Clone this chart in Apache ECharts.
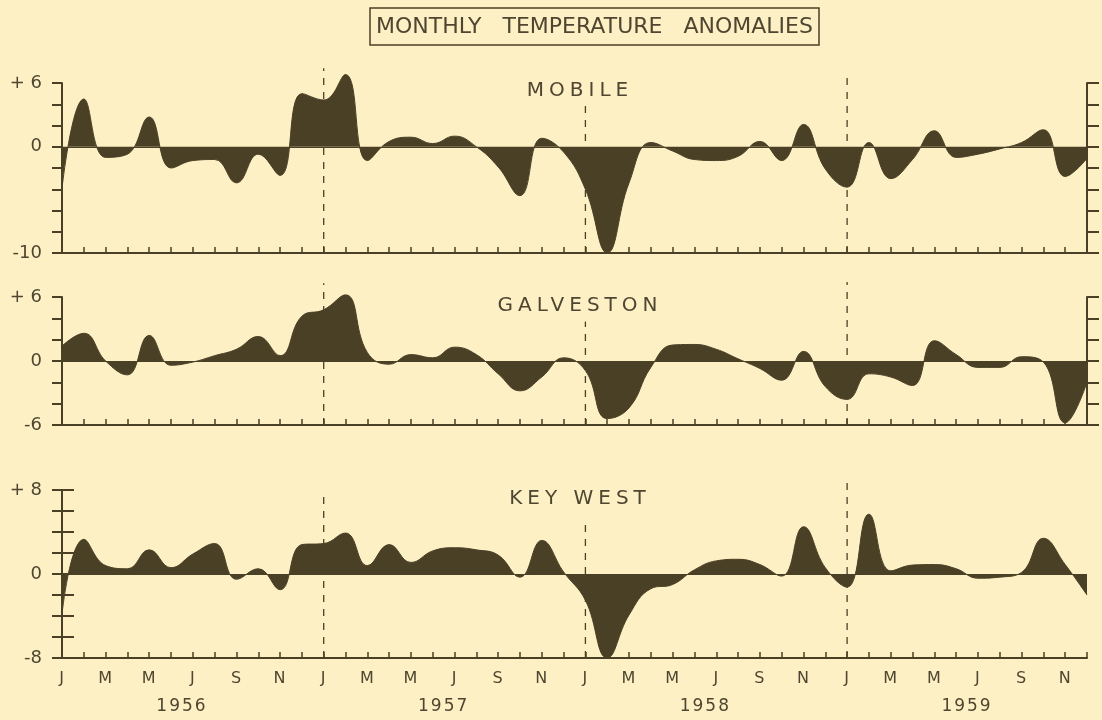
<!DOCTYPE html>
<html>
<head>
<meta charset="utf-8">
<script src="https://cdn.jsdelivr.net/npm/echarts@6/dist/echarts.min.js"></script>
<style>
  html, body { margin: 0; padding: 0; background: #fdf0c4; }
  #chart { width: 1102px; height: 720px; }
</style>
</head>
<body>
<div id="chart"></div>
<script>
// ---------- data ----------
const MONTH_LABELS = ['J', '', 'M', '', 'M', '', 'J', '', 'S', '', 'N', ''];
const YEARS = ['1956', '1957', '1958', '1959'];
const YEAR_STARTS = [12, 24, 36];           // Jan 1957, Jan 1958, Jan 1959 (month index)

// Monthly anomalies, Jan 1956 .. Dec 1959 (48 values)
const MOBILE = [-3.9, 4.5, -1.0, -0.7, 2.8, -2.0, -1.3, -1.2, -3.4, -0.7, -2.7, 5.0,
                4.4, 6.8, -1.3, 0.5, 0.9, 0.3, 1.0, 0.0, -1.9, -4.6, 0.8, -0.5,
                -4.0, -10.0, -3.4, 0.4, -0.4, -1.2, -1.3, -0.9, 0.5, -1.3, 2.1, -2.1,
                -3.8, 0.4, -3.0, -1.2, 1.5, -1.0, -0.7, -0.2, 0.4, 1.6, -2.8, -1.1];
const GALVESTON = [1.4, 2.6, 0.0, -1.3, 2.4, -0.4, -0.1, 0.5, 1.1, 2.3, 0.5, 4.2,
                   4.8, 6.2, 0.8, -0.3, 0.6, 0.3, 1.3, 0.6, -1.2, -2.8, -1.5, 0.3,
                   -0.9, -5.4, -4.4, -0.6, 1.5, 1.55, 1.1, 0.2, -0.7, -1.8, 0.9, -2.4,
                   -3.6, -1.2, -1.5, -2.3, 1.9, 0.6, -0.6, -0.6, 0.4, -0.1, -5.8, -2.0];
const KEY_WEST = [-3.8, 3.3, 0.8, 0.5, 2.3, 0.6, 1.9, 2.9, -0.5, 0.5, -1.5, 2.8,
                  2.9, 3.9, 0.8, 2.8, 1.1, 2.2, 2.5, 2.3, 1.8, -0.3, 3.2, 0.2,
                  -2.5, -8.0, -3.9, -1.4, -1.0, 0.4, 1.25, 1.4, 0.9, -0.2, 4.5, 0.6,
                  -1.25, 5.7, 0.3, 0.85, 0.9, 0.5, -0.4, -0.3, 0.15, 3.4, 0.9, -2.0];

const PANEL_NAMES = ['MOBILE', 'GALVESTON', 'KEY WEST'];
const Y_MIN = [-10, -6, -8];
const Y_MAX = [6, 6, 8];
const Y_STEP = 2;
// top end (in panel units) of the dashed year separators
const DASH_TOPS = [[7.4, 4.1, 6.9], [7.3, 3.7, 7.4], [7.7, 5.3, 9.1]];

// ---------- styling ----------
const INK = '#4a4026';
const TEXT = '#4f4631';
const FONT = 'DejaVu Sans';
const GRIDS = [
  { left: 62, right: 15, top: 83, height: 170 },
  { left: 62, right: 15, top: 297, height: 128 },
  { left: 62, right: 15, top: 490, height: 168 }
];
const TITLE_POS = [[580, 91], [580, 306], [580, 499]];

// Leroy-style lettering is widely spaced: add canvas letter spacing per font size
const LETTER_SPACING = { '20px': '5px', '17px': '2px', '16px': '1px' };
(function () {
  const proto = CanvasRenderingContext2D.prototype;
  if (!('letterSpacing' in proto)) return;
  const orig = proto.fillText;
  proto.fillText = function (t, x, y, w) {
    const m = /(\d+)px/.exec(this.font);
    const ls = m ? LETTER_SPACING[m[1] + 'px'] : null;
    const prev = this.letterSpacing;
    this.letterSpacing = ls || '0px';
    const r = w === undefined ? orig.call(this, t, x, y) : orig.call(this, t, x, y, w);
    this.letterSpacing = prev;
    return r;
  };
})();

const SERIES_DATA = [MOBILE, GALVESTON, KEY_WEST];

const xAxes = [];
const yAxes = [];
const series = [];

for (let p = 0; p < 3; p++) {
  xAxes.push({
    type: 'value', gridIndex: p, min: 0, max: 47, interval: 1,
    axisLine: { onZero: false, lineStyle: { color: INK, width: 2 } },
    axisTick: { inside: true, length: 6, lineStyle: { color: INK, width: 1.5 } },
    splitLine: { show: false },
    axisLabel: p === 2 ? {
      show: true, color: TEXT, fontFamily: FONT, fontSize: 16, margin: 13,
      formatter: v => MONTH_LABELS[Math.round(v) % 12]
    } : { show: false }
  });
  const mn = Y_MIN[p], mx = Y_MAX[p];
  yAxes.push({
    type: 'value', gridIndex: p, min: mn, max: mx, interval: Y_STEP, position: 'left',
    axisLine: { show: true, lineStyle: { color: INK, width: 2 } },
    axisTick: { show: true, length: 10, lineStyle: { color: INK, width: 2 } },
    splitLine: { show: false },
    axisLabel: {
      color: TEXT, fontFamily: FONT, fontSize: 18, margin: 20,
      formatter: v => v === mx ? '+ ' + v : (v === 0 || v === mn) ? String(v) : ''
    }
  });
  yAxes.push({
    type: 'value', gridIndex: p, min: mn, max: mx, interval: Y_STEP, position: 'right',
    axisLine: { show: true, lineStyle: { color: INK, width: 2 } },
    axisTick: { show: true, length: 12, lineStyle: { color: INK, width: 2 } },
    splitLine: { show: false },
    axisLabel: { show: false }
  });

  series.push({
    type: 'line', xAxisIndex: p, yAxisIndex: p * 2,
    data: SERIES_DATA[p].map((v, i) => [i, v]),
    smooth: 0.45, symbol: 'none', silent: true, clip: false,
    lineStyle: { color: INK, width: 1 },
    areaStyle: { color: INK, opacity: 1, origin: 0 },
    markLine: {
      silent: true, symbol: 'none', label: { show: false },
      lineStyle: { color: INK, width: 1.2, type: 'solid' },
      data: [{ yAxis: 0 }]
    },
    z: 3
  });

  YEAR_STARTS.forEach((m, k) => {
    series.push({
      type: 'line', xAxisIndex: p, yAxisIndex: p * 2, clip: false,
      data: [[m, mn], [m, DASH_TOPS[p][k]]],
      symbol: 'none', silent: true,
      lineStyle: { color: INK, width: 1.3, type: [7, 7] },
      z: 2
    });
  });
}

// year labels axis (mid-year positions)
xAxes.push({
  type: 'value', gridIndex: 2, min: 0, max: 47, interval: 0.5, position: 'bottom',
  axisLine: { show: false }, axisTick: { show: false }, splitLine: { show: false },
  axisLabel: {
    color: TEXT, fontFamily: FONT, fontSize: 17, margin: 40,
    formatter: v => { const k = (v - 5.5) / 12; return Number.isInteger(k) ? YEARS[k] : ''; }
  }
});

const graphics = PANEL_NAMES.map((name, p) => ({
  type: 'text', x: TITLE_POS[p][0], y: TITLE_POS[p][1], silent: true,
  style: { text: name, fill: TEXT, font: '20px "' + FONT + '"', textAlign: 'center', textVerticalAlign: 'middle' }
}));

const chart = echarts.init(document.getElementById('chart'));
chart.setOption({
  backgroundColor: '#fdf0c4',
  animation: false,
  title: {
    text: 'MONTHLY   TEMPERATURE   ANOMALIES',
    left: 370, top: 8,
    padding: [8, 6, 7, 6],
    borderColor: INK, borderWidth: 1.5,
    textStyle: { color: TEXT, fontFamily: FONT, fontSize: 22, fontWeight: 'normal' }
  },
  grid: GRIDS,
  xAxis: xAxes,
  yAxis: yAxes,
  series: series,
  graphic: graphics
});
</script>
</body>
</html>
